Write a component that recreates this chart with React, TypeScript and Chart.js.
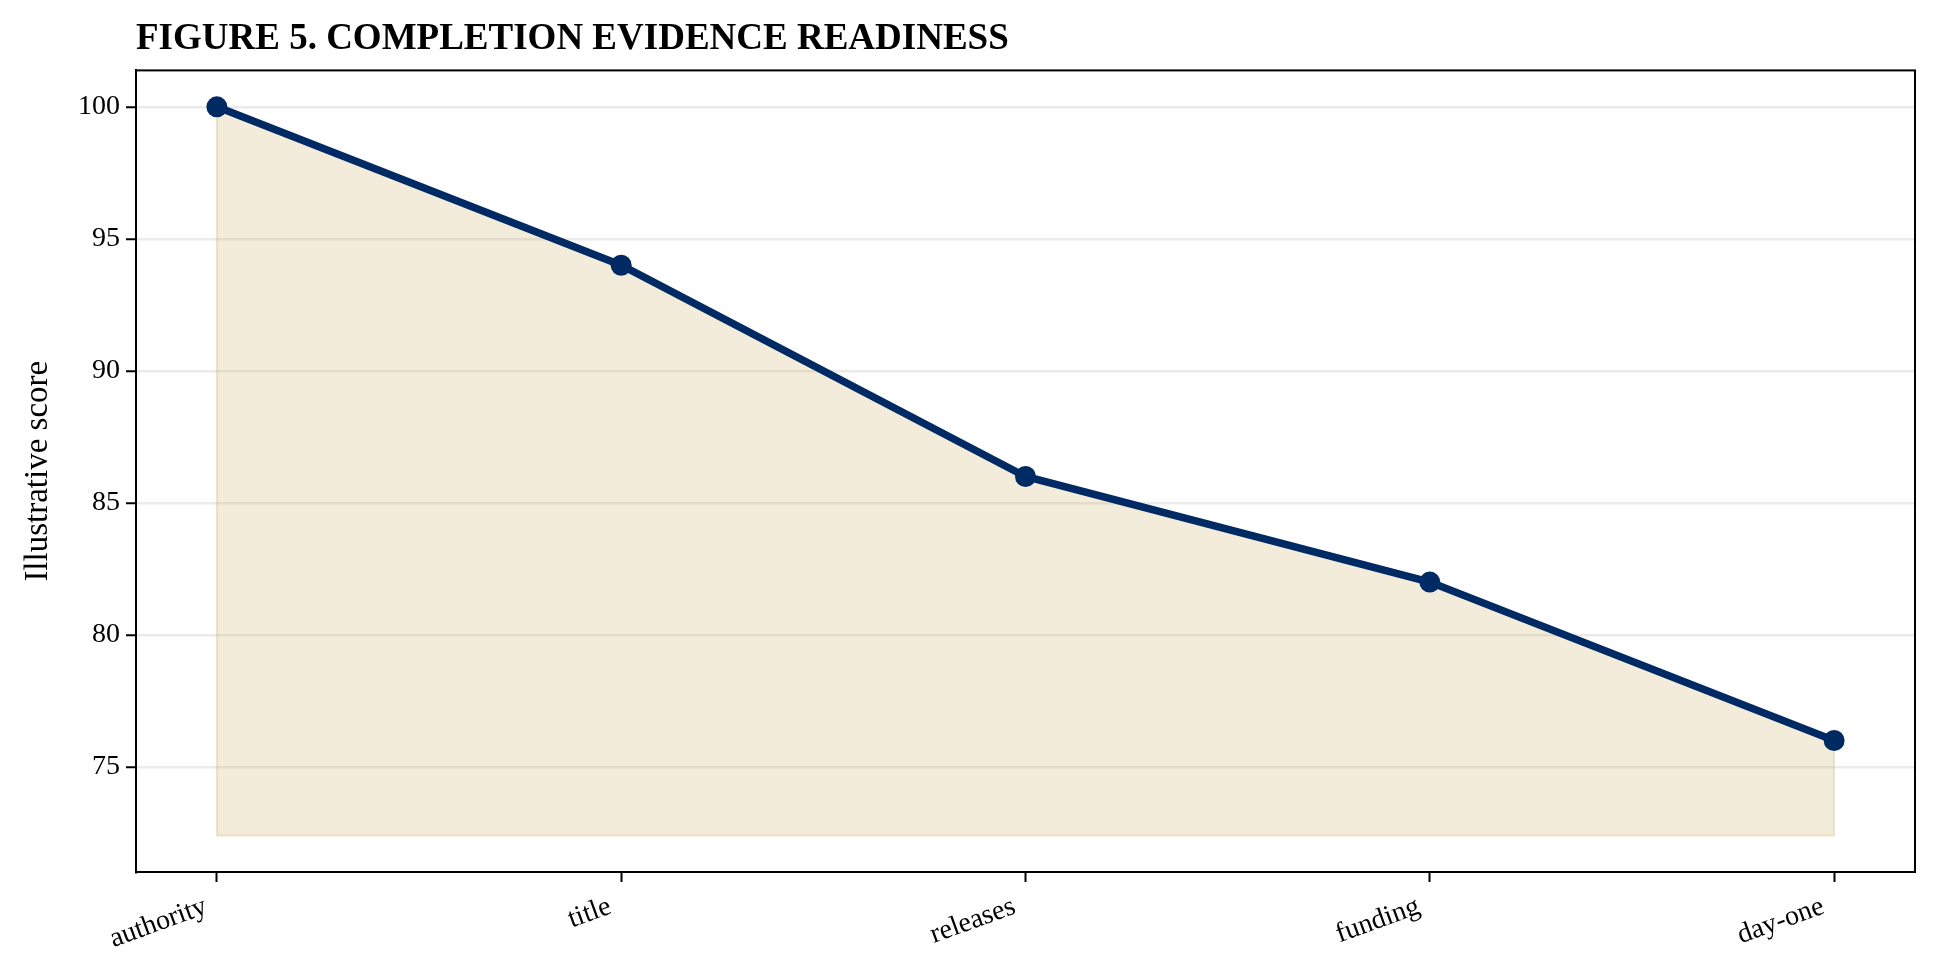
import { useEffect, useRef } from 'react'
import { Chart, registerables } from 'chart.js'
import type { Plugin } from 'chart.js'

Chart.register(...registerables)

// data
const categories = ['authority', 'title', 'releases', 'funding', 'day-one']
const scores = [100, 94, 86, 82, 76]
const yTicks = [75, 80, 85, 90, 95, 100]
const fillBase = 72.4
const yMin = 71.02
const yMax = 101.38
const xPad = 0.2

const navy = '#002a63'
const serif = "'Liberation Serif', 'Times New Roman', serif"

// top + right spines
const frame: Plugin<'line'> = {
  id: 'frame',
  afterDraw(chart) {
    const { ctx, chartArea: a } = chart
    ctx.save()
    ctx.strokeStyle = '#000'
    ctx.lineWidth = 2
    ctx.strokeRect(a.left, a.top, a.right - a.left, a.bottom - a.top)
    ctx.restore()
  }
}

export default function App() {
  const chartRef = useRef<HTMLCanvasElement>(null)

  useEffect(() => {
    document.body.style.margin = '0'
    if (!chartRef.current) return

    const last = scores.length - 1
    const points = scores.map((v, i) => ({ x: i, y: v }))
    // faint outline of the shaded area
    const edge = [
      { x: 0, y: scores[0] },
      { x: 0, y: fillBase },
      { x: last, y: fillBase },
      { x: last, y: scores[last] }
    ]

    const chart = new Chart(chartRef.current, {
      type: 'line',
      data: {
        datasets: [
          {
            data: points,
            borderColor: navy,
            borderWidth: 7.5,
            backgroundColor: 'rgba(195, 160, 70, 0.2)',
            fill: { value: fillBase },
            pointRadius: 10.5,
            pointBackgroundColor: navy,
            pointBorderColor: navy,
            pointBorderWidth: 0,
            tension: 0
          },
          {
            data: edge,
            borderColor: 'rgba(195, 160, 70, 0.25)',
            borderWidth: 2,
            pointRadius: 0,
            fill: false
          }
        ]
      },
      options: {
        responsive: true,
        maintainAspectRatio: false,
        animation: false,
        layout: { padding: { left: 0, right: 22, top: 0, bottom: 0 } },
        plugins: {
          legend: { display: false },
          tooltip: { enabled: false },
          title: {
            display: true,
            text: 'FIGURE 5. COMPLETION EVIDENCE READINESS',
            align: 'start',
            fullSize: false,
            color: '#000',
            font: { family: serif, size: 37, weight: 'bold' },
            padding: { top: 17, bottom: 9 }
          }
        },
        scales: {
          x: {
            type: 'linear',
            min: -xPad,
            max: last + xPad,
            afterBuildTicks: (s) => {
              s.ticks = categories.map((_, i) => ({ value: i }))
            },
            afterFit: (s) => {
              s.height = 107
            },
            ticks: {
              callback: (v) => categories[Math.round(Number(v))],
              minRotation: 20,
              maxRotation: 20,
              autoSkip: false,
              color: '#000',
              padding: 8,
              labelOffset: -11,
              font: { family: serif, size: 28 }
            },
            grid: {
              drawOnChartArea: false,
              drawTicks: true,
              tickLength: 10,
              tickColor: '#000',
              tickWidth: 2
            },
            border: { color: '#000', width: 2 }
          },
          y: {
            min: yMin,
            max: yMax,
            afterBuildTicks: (s) => {
              s.ticks = yTicks.map((v) => ({ value: v }))
            },
            afterFit: (s) => {
              s.width = 136
            },
            ticks: {
              color: '#000',
              padding: 6,
              font: { family: serif, size: 28 }
            },
            grid: {
              color: 'rgba(0, 0, 0, 0.08)',
              lineWidth: 2.5,
              tickLength: 10,
              tickColor: '#000',
              tickWidth: 2
            },
            border: { color: '#000', width: 2 },
            title: {
              display: true,
              text: 'Illustrative score',
              color: '#000',
              font: { family: serif, size: 33 },
              padding: { top: 19, bottom: 0 }
            }
          }
        }
      },
      plugins: [frame]
    })

    return () => {
      chart.destroy()
    }
  }, [])

  return (
    <div style={{ position: 'relative', width: 1937, height: 979, background: '#fff' }}>
      <canvas ref={chartRef}></canvas>
    </div>
  )
}
